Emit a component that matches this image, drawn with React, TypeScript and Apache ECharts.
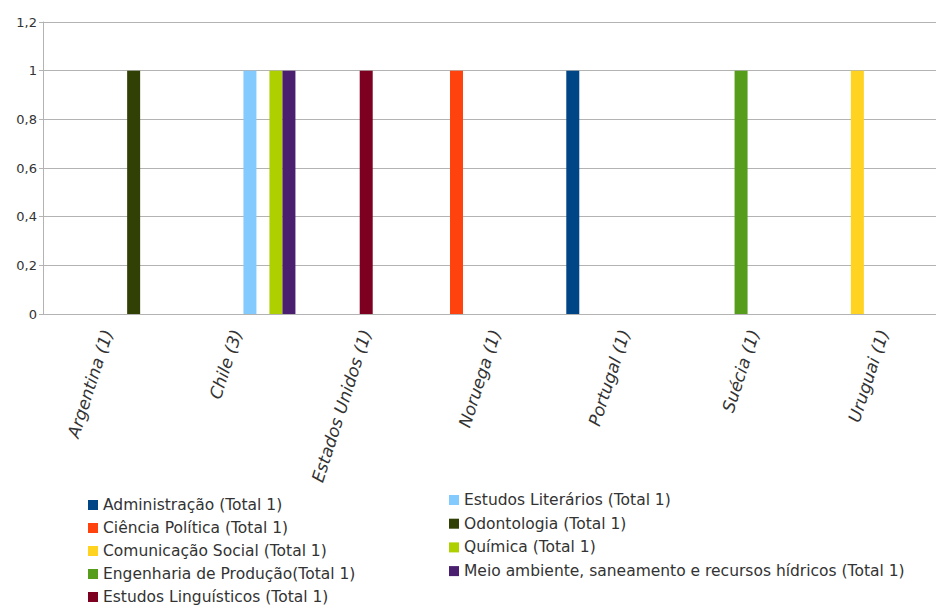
import React, { useEffect, useRef } from "react";
import * as echarts from "echarts";

const categories = [
  "Argentina (1)",
  "Chile (3)",
  "Estados Unidos (1)",
  "Noruega (1)",
  "Portugal (1)",
  "Suécia (1)",
  "Uruguai (1)",
];

const seriesNames = [
  "Administração (Total 1)",
  "Ciência Política (Total 1)",
  "Comunicação Social (Total 1)",
  "Engenharia de Produção(Total 1)",
  "Estudos Linguísticos (Total 1)",
  "Estudos Literários (Total 1)",
  "Odontologia (Total 1)",
  "Química (Total 1)",
  "Meio ambiente, saneamento e recursos hídricos (Total 1)",
];

const administracao = [0, 0, 0, 0, 1, 0, 0];
const cienciaPolitica = [0, 0, 0, 1, 0, 0, 0];
const comunicacaoSocial = [0, 0, 0, 0, 0, 0, 1];
const engenhariaProducao = [0, 0, 0, 0, 0, 1, 0];
const estudosLinguisticos = [0, 0, 1, 0, 0, 0, 0];
const estudosLiterarios = [0, 1, 0, 0, 0, 0, 0];
const odontologia = [1, 0, 0, 0, 0, 0, 0];
const quimica = [0, 1, 0, 0, 0, 0, 0];
const meioAmbiente = [0, 1, 0, 0, 0, 0, 0];

const seriesValues = [
  administracao,
  cienciaPolitica,
  comunicacaoSocial,
  engenhariaProducao,
  estudosLinguisticos,
  estudosLiterarios,
  odontologia,
  quimica,
  meioAmbiente,
];

const colors = [
  "#004586",
  "#ff420e",
  "#ffd320",
  "#579d1c",
  "#7e0021",
  "#83caff",
  "#314004",
  "#aecf00",
  "#4b1f6f",
];

export default function App() {
  const ref = useRef<HTMLDivElement>(null);
  useEffect(() => {
    if (!ref.current) return;
    const chart = echarts.init(ref.current, null, { renderer: "svg" });
    const legendText = {
      fontFamily: "DejaVu Sans",
      fontSize: 15.5,
      color: "#333",
      lineHeight: 16,
    };
    chart.setOption({
      animation: false,
      color: colors,
      grid: { left: 43, top: 22, width: 905, height: 292, containLabel: false },
      legend: [
        {
          data: seriesNames.slice(0, 5),
          orient: "vertical",
          left: 88,
          top: 497,
          itemWidth: 10,
          itemHeight: 10,
          itemGap: 7,
          icon: "rect",
          textStyle: legendText,
          padding: 0,
        },
        {
          data: seriesNames.slice(5),
          orient: "vertical",
          left: 449,
          top: 492,
          itemWidth: 10,
          itemHeight: 10,
          itemGap: 7.7,
          icon: "rect",
          textStyle: legendText,
          padding: 0,
        },
      ],
      xAxis: {
        type: "category",
        data: categories,
        axisLine: { lineStyle: { color: "#b3b3b3" } },
        axisTick: { length: 5, lineStyle: { color: "#b3b3b3" } },
        axisLabel: {
          rotate: 72,
          fontFamily: "DejaVu Sans",
          fontStyle: "italic",
          fontSize: 17,
          color: "#333",
          margin: 16,
        },
      },
      yAxis: {
        type: "value",
        min: 0,
        max: 1.2,
        interval: 0.2,
        axisLine: { show: true, lineStyle: { color: "#b3b3b3" } },
        axisTick: { show: true, length: 4, lineStyle: { color: "#b3b3b3" } },
        splitLine: { lineStyle: { color: "#b3b3b3" } },
        axisLabel: {
          fontFamily: "DejaVu Sans",
          fontSize: 13,
          color: "#333",
          margin: 6,
          formatter: (v: number) => String(Math.round(v * 10) / 10).replace(".", ","),
        },
      },
      series: seriesNames.map((name, i) => ({
        name,
        type: "bar",
        data: seriesValues[i],
        barGap: "0%",
        barCategoryGap: "9.5%",
      })),
    });
    return () => chart.dispose();
  }, []);
  return (
    <div style={{ position: "absolute", left: 0, top: 0, width: 936, height: 606, overflow: "hidden" }}>
      <div ref={ref} style={{ width: 960, height: 606 }} />
    </div>
  );
}
